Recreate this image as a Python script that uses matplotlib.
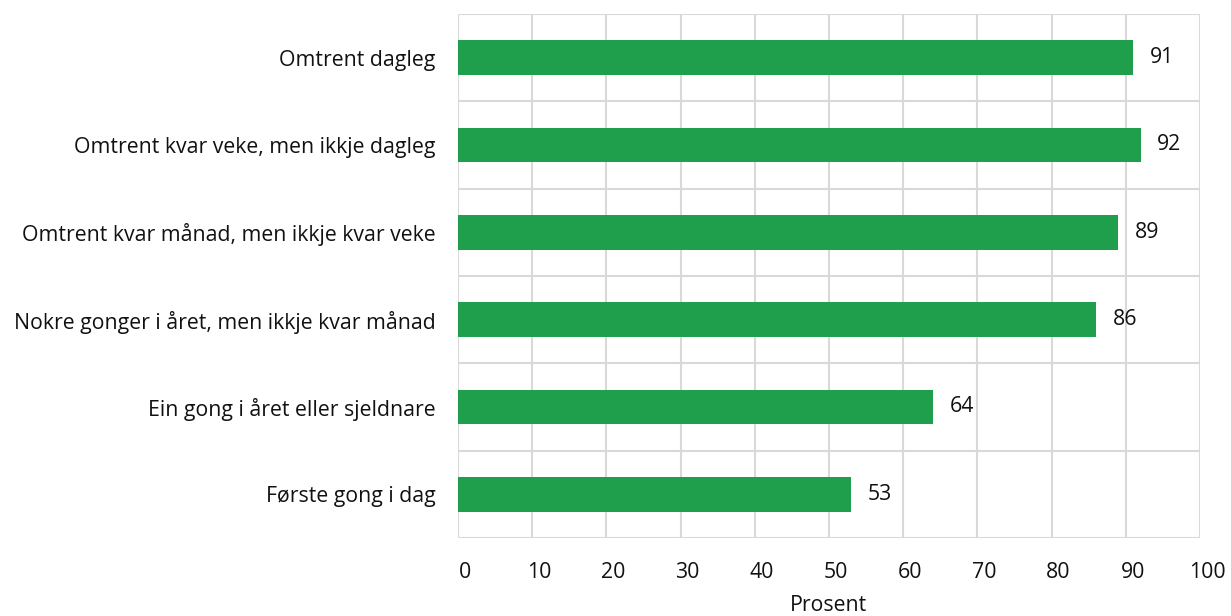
import matplotlib
matplotlib.use("Agg")
import matplotlib.pyplot as plt
import matplotlib.transforms as mtransforms
import numpy as np

# Data
kategoriar = [
    "Omtrent dagleg",
    "Omtrent kvar veke, men ikkje dagleg",
    "Omtrent kvar månad, men ikkje kvar veke",
    "Nokre gonger i året, men ikkje kvar månad",
    "Ein gong i året eller sjeldnare",
    "Første gong i dag",
]
prosent = [91, 92, 89, 86, 64, 53]
xticks = list(range(0, 101, 10))

GREEN = "#1f9e4b"
GRID = "#d9d9d9"
TXT = "#111111"
FS = 15.3

plt.rcParams["font.family"] = ["Open Sans", "DejaVu Sans"]

fig = plt.figure(figsize=(12.31, 6.16), dpi=100)
ax = fig.add_axes([458 / 1231, 1 - 538 / 616, (1200 - 458) / 1231, (538 - 14) / 616])

y = np.arange(len(kategoriar))
ax.barh(y, prosent, height=0.4, color=GREEN, zorder=3)

for yi, v in zip(y, prosent):
    ax.annotate(str(v), xy=(v, yi), xytext=(12, 0), textcoords="offset points",
                va="center", ha="left", fontsize=FS, color=TXT)

ax.set_xlim(0, 100)
ax.set_ylim(len(kategoriar) - 0.5, -0.5)
ax.set_xticks(xticks)
ax.set_yticks(y)
ax.set_yticklabels(kategoriar, fontsize=FS, color=TXT)
ax.tick_params(axis="x", labelsize=FS, labelcolor=TXT, length=0, pad=17)
ax.tick_params(axis="y", length=0, pad=16)

# shift x labels a bit to the right like the original
offset = mtransforms.ScaledTranslation(7 / 100, 0, fig.dpi_scale_trans)
for lab in ax.get_xticklabels():
    lab.set_transform(lab.get_transform() + offset)

# grid: vertical at ticks, horizontal at category boundaries
for xv in xticks:
    ax.axvline(xv, color=GRID, lw=1.5, zorder=1)
for b in np.arange(-0.5, len(kategoriar), 1.0):
    ax.axhline(b, color=GRID, lw=1.5, zorder=1)

for s in ax.spines.values():
    s.set_visible(False)

ax.set_xlabel("Prosent", fontsize=FS, color=TXT, labelpad=9)

fig.savefig("out.png", dpi=100)
